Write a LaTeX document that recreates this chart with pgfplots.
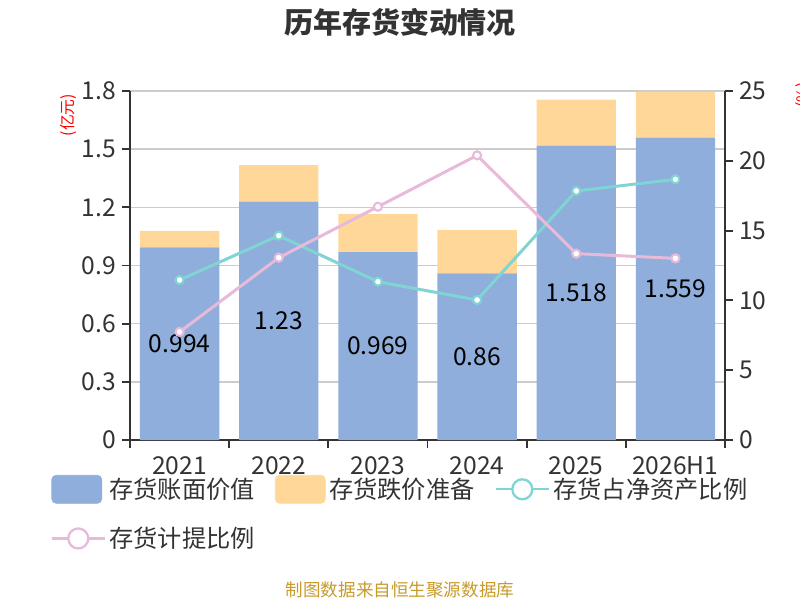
\documentclass[border=0pt]{standalone}
\usepackage{fontspec}
\setmainfont{Noto Sans CJK SC}
\usepackage{pgfplots}
\pgfplotsset{compat=1.18}
\definecolor{cblue}{HTML}{8FAEDB}
\definecolor{cyel}{HTML}{FFD899}
\definecolor{cteal}{HTML}{80D4D4}
\definecolor{cpink}{HTML}{E8BADA}
\definecolor{gridc}{HTML}{CCCCCC}
\definecolor{axc}{HTML}{333333}
\definecolor{srcc}{HTML}{C89A2A}
\pgfplotstableread{
x blue yel teal pink half lab
0 0.994 0.084 11.46 7.74 0.497 0.994
1 1.230 0.188 14.64 13.06 0.615 1.23
2 0.969 0.197 11.34 16.71 0.4845 0.969
3 0.860 0.223 10.03 20.39 0.430 0.86
4 1.518 0.237 17.84 13.35 0.759 1.518
5 1.559 0.237 18.67 13.01 0.7795 1.559
}\datatab
\pgfplotsset{
  base/.style={
    at={(2.6cm,3.2cm)}, anchor=south west, scale only axis,
    width=11.9cm, height=6.98cm, xmin=-0.5, xmax=5.5,
    axis line style={color=axc, line width=1.1pt, -},
    tick style={color=axc, line width=1.1pt},
    tick align=outside, major tick length=0.16cm,
    ticklabel style={font=\fontsize{14}{14}\selectfont, text=axc},
    /pgf/number format/assume math mode=true,
  }
}
\begin{document}
\begin{tikzpicture}
\path[use as bounding box] (0,0) rectangle (16cm,12cm);
% bars
\begin{axis}[base, ymin=0, ymax=1.8, ybar stacked, bar width=0.8,
  axis y line*=left, axis x line*=bottom,
  ytick={0,0.3,0.6,0.9,1.2,1.5,1.8}, yticklabels={0,0.3,0.6,0.9,1.2,1.5,1.8},
  xtick={-0.5,0.5,1.5,2.5,3.5,4.5,5.5},
  xticklabels={2021,2022,2023,2024,2025,2026H1,},
  xticklabel style={xshift=0.9917cm, yshift=-0.05cm},
  ymajorgrids, grid style={color=gridc, line width=0.8pt}]
\addplot[fill=cblue, draw=none] table[x=x, y=blue] {\datatab};
\addplot[fill=cyel, draw=none] table[x=x, y=yel] {\datatab};
\end{axis}
% labels
\begin{axis}[base, ymin=0, ymax=1.8, hide axis]
\addplot[draw=none, mark=none, nodes near coords, point meta=explicit symbolic,
  every node near coord/.style={anchor=center, font=\fontsize{14}{14}\selectfont, text=black}]
  table[x=x, y=half, meta=lab] {\datatab};
\end{axis}
% lines
\begin{axis}[base, ymin=0, ymax=25, axis y line*=right, axis x line=none,
  ytick={0,5,10,15,20,25},
  legend columns=3,
  legend cell align=left,
  legend style={draw=none, fill=none, at={(-0.134,-0.097)}, anchor=north west,
    inner sep=0pt, font=\fontsize{13.8}{13.8}\selectfont, text=axc,
    row sep=0.38cm,
    /tikz/every even column/.append style={column sep=0.33cm}}]
\addlegendimage{legend image code/.code={\fill[cblue, rounded corners=2.5pt] (0cm,-0.28cm) rectangle (1.0cm,0.28cm);}}
\addlegendentry{存货账面价值}
\addlegendimage{legend image code/.code={\fill[cyel, rounded corners=2.5pt] (0cm,-0.28cm) rectangle (1.0cm,0.28cm);}}
\addlegendentry{存货跌价准备}
\addplot[color=cteal, line width=1.7pt, mark=*, mark size=2.3pt,
  mark options={fill=white, draw=cteal, line width=1.2pt},
  legend image code/.code={\draw[cteal, line width=1.3pt] (0cm,0cm) -- (1.06cm,0cm); \draw[cteal, line width=1.3pt, fill=white] (0.53cm,0cm) circle (0.2cm);}]
  table[x=x, y=teal] {\datatab};
\addlegendentry{存货占净资产比例}
\addplot[color=cpink, line width=1.7pt, mark=*, mark size=2.3pt,
  mark options={fill=white, draw=cpink, line width=1.2pt},
  legend image code/.code={\draw[cpink, line width=1.3pt] (0cm,0cm) -- (1.06cm,0cm); \draw[cpink, line width=1.3pt, fill=white] (0.53cm,0cm) circle (0.2cm);}]
  table[x=x, y=pink] {\datatab};
\addlegendentry{存货计提比例}
\end{axis}
\node[font=\bfseries\fontsize{16.5}{16.5}\selectfont, text=axc] at (8cm,11.56cm) {历年存货变动情况};
\node[font=\fontsize{10}{10}\selectfont, text=srcc] at (8cm,0.2cm) {制图数据来自恒生聚源数据库};
\node[font=\fontsize{9}{9}\selectfont, text=red, rotate=90] at (1.36cm,9.7cm) {(亿元)};
\node[font=\fontsize{9}{9}\selectfont, text=red, rotate=90] at (16.08cm,10.1cm) {(\%)};
\end{tikzpicture}
\end{document}
